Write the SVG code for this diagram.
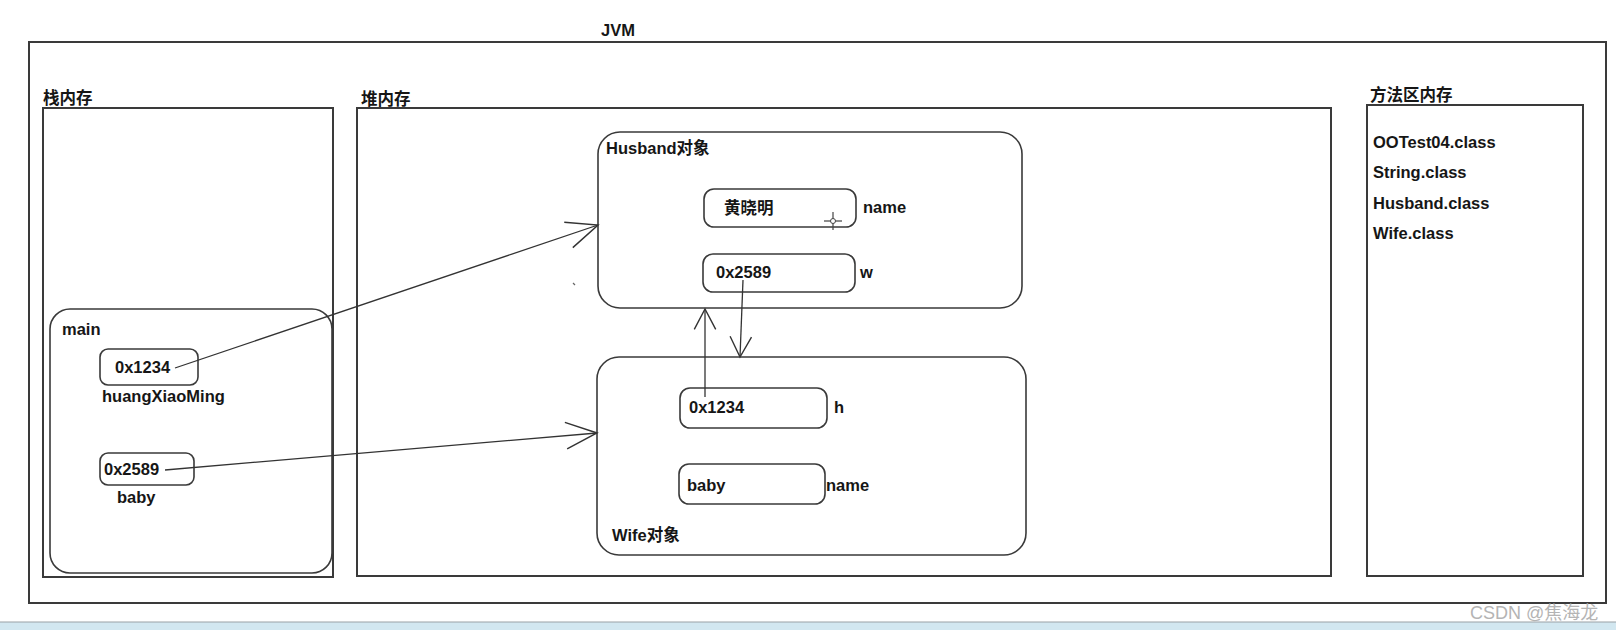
<svg xmlns="http://www.w3.org/2000/svg" width="1616" height="630" viewBox="0 0 1616 630">
  <style>
    .t { font-family: "Liberation Sans", "Noto Sans CJK SC", sans-serif; font-weight: bold; font-size: 16.5px; fill: #161616; }
    .box { fill: none; stroke: #3a3a3a; stroke-width: 2; }
    .rbox { fill: none; stroke: #3a3a3a; stroke-width: 1.6; }
    .conn { fill: none; stroke: #333; stroke-width: 1.3; }
    .wm { font-family: "Liberation Sans", "Noto Sans CJK SC", sans-serif; font-size: 18px; fill: #b4b4b4; }
  </style>
  <defs>
    <marker id="arrL" markerUnits="userSpaceOnUse" markerWidth="40" markerHeight="40" refX="0" refY="0" viewBox="-32 -16 36 32" orient="auto">
      <path d="M -28 -12 L 0 0 L -28 12" fill="none" stroke="#333" stroke-width="1.3"/>
    </marker>
    <marker id="arrS" markerUnits="userSpaceOnUse" markerWidth="30" markerHeight="30" refX="0" refY="0" viewBox="-24 -12 28 24" orient="auto">
      <path d="M -19 -10 L 0 0 L -19 10" fill="none" stroke="#333" stroke-width="1.3"/>
    </marker>
  </defs>
  <rect x="0" y="0" width="1616" height="630" fill="#ffffff"/>

  <g id="jvm">
    <rect class="box" x="29" y="42" width="1577" height="561"/>
    <text class="t" x="601" y="36">JVM</text>
  </g>

  <g id="stack">
    <rect class="box" x="43" y="108" width="290" height="469"/>
    <text class="t" x="43" y="104">栈内存</text>
  </g>

  <g id="heap">
    <rect class="box" x="357" y="108" width="974" height="468"/>
    <text class="t" x="361" y="105">堆内存</text>
  </g>

  <g id="method-area">
    <rect class="box" x="1367" y="105" width="216" height="471"/>
    <text class="t" x="1370" y="101">方法区内存</text>
    <text class="t" x="1373" y="148">OOTest04.class</text>
    <text class="t" x="1373" y="178">String.class</text>
    <text class="t" x="1373" y="209">Husband.class</text>
    <text class="t" x="1373" y="239">Wife.class</text>
  </g>

  <g id="main">
    <rect class="rbox" x="50" y="309" width="282" height="264" rx="20"/>
    <text class="t" x="62" y="335">main</text>
  </g>

  <g id="var-huangXiaoMing">
    <rect class="rbox" x="100" y="349" width="98" height="36" rx="8"/>
    <text class="t" x="115" y="373">0x1234</text>
    <text class="t" x="102" y="402">huangXiaoMing</text>
  </g>

  <g id="var-baby">
    <rect class="rbox" x="100" y="453" width="94" height="32" rx="8"/>
    <text class="t" x="104" y="475">0x2589</text>
    <text class="t" x="117" y="503">baby</text>
  </g>

  <g id="husband">
    <rect class="rbox" x="598" y="132" width="424" height="176" rx="22"/>
    <text class="t" x="606" y="154">Husband对象</text>
  </g>

  <g id="husband-name">
    <rect class="rbox" x="704" y="189" width="152" height="38" rx="10"/>
    <text class="t" x="724" y="214">黄晓明</text>
    <text class="t" x="863" y="213">name</text>
  </g>

  <g id="husband-w">
    <rect class="rbox" x="703" y="254" width="152" height="38" rx="10"/>
    <text class="t" x="716" y="278">0x2589</text>
    <text class="t" x="860" y="278">w</text>
  </g>

  <g id="wife">
    <rect class="rbox" x="597" y="357" width="429" height="198" rx="22"/>
    <text class="t" x="612" y="541">Wife对象</text>
  </g>

  <g id="wife-h">
    <rect class="rbox" x="680" y="388" width="147" height="40" rx="10"/>
    <text class="t" x="689" y="413">0x1234</text>
    <text class="t" x="834" y="413">h</text>
  </g>

  <g id="wife-name">
    <rect class="rbox" x="679" y="464" width="146" height="40" rx="10"/>
    <text class="t" x="687" y="491">baby</text>
    <text class="t" x="826" y="491">name</text>
  </g>

  <g id="connectors">
    <line class="conn" x1="175" y1="368" x2="598" y2="225" marker-end="url(#arrL)"/>
    <line class="conn" x1="165" y1="470" x2="597" y2="433" marker-end="url(#arrL)"/>
    <line class="conn" x1="743" y1="280" x2="740" y2="357" marker-end="url(#arrS)"/>
    <line class="conn" x1="705" y1="397" x2="705" y2="309" marker-end="url(#arrS)"/>
  </g>

  <g id="cursor">
    <line x1="824" y1="221" x2="842" y2="221" stroke="#444" stroke-width="1.2"/>
    <line x1="833" y1="212" x2="833" y2="230" stroke="#444" stroke-width="1.2"/>
    <circle cx="833" cy="221" r="2.5" fill="#fff" stroke="#444" stroke-width="1"/>
    <line x1="573" y1="283" x2="575" y2="285" stroke="#666" stroke-width="1.2"/>
  </g>

  <g id="bottom-strip">
    <rect x="0" y="622" width="1616" height="8" fill="#d2e7f0"/>
    <line x1="0" y1="622" x2="1616" y2="622" stroke="#9aa2a6" stroke-width="1.2"/>
  </g>

  <text class="wm" x="1470" y="619">CSDN @焦海龙</text>
</svg>
